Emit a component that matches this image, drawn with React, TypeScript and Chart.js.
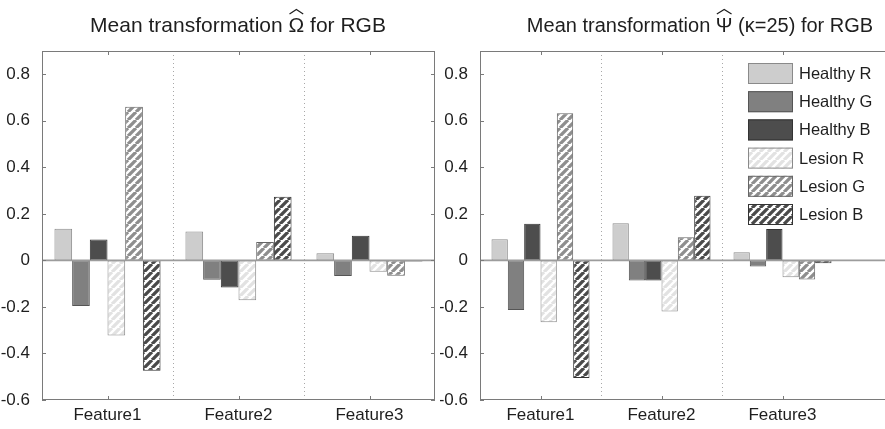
import React, { useEffect, useRef } from 'react';
import { Chart, registerables } from 'chart.js';
Chart.register(...registerables);

const FONT = "'Liberation Sans', Arial, Helvetica, sans-serif";

// ---------- data ----------
const categories = ['Feature1', 'Feature2', 'Feature3'];
const seriesNames = ['Healthy R', 'Healthy G', 'Healthy B', 'Lesion R', 'Lesion G', 'Lesion B'];

const yTicks = [-0.6, -0.4, -0.2, 0, 0.2, 0.4, 0.6, 0.8];
const yTickLabels = ['-0.6', '-0.4', '-0.2', '0', '0.2', '0.4', '0.6', '0.8'];

// Left panel: Mean transformation Omega-hat
const omegaHealthyR = [0.136, 0.124, 0.031];
const omegaHealthyG = [-0.196, -0.083, -0.067];
const omegaHealthyB = [0.09, -0.116, 0.106];
const omegaLesionR = [-0.323, -0.171, -0.049];
const omegaLesionG = [0.66, 0.079, -0.066];
const omegaLesionB = [-0.474, 0.274, -0.005];

// Right panel: Mean transformation Psi-hat (kappa=25)
const psiHealthyR = [0.091, 0.16, 0.035];
const psiHealthyG = [-0.213, -0.086, -0.026];
const psiHealthyB = [0.157, -0.086, 0.135];
const psiLesionR = [-0.266, -0.22, -0.072];
const psiLesionG = [0.632, 0.1, -0.082];
const psiLesionB = [-0.505, 0.278, -0.012];

// Titles: [text before hatted symbol, hatted symbol, text after]
const titleOmega = ['Mean transformation ', '\u03A9', ' for RGB'];
const titlePsi = ['Mean transformation ', '\u03A8', ' (\u03BA=25) for RGB'];

// ---------- styling helpers ----------
function hatch(stripe: string): CanvasPattern | string {
  const s = 8;
  const c = document.createElement('canvas');
  c.width = s;
  c.height = s;
  const g = c.getContext('2d');
  if (!g) return '#fff';
  g.fillStyle = '#ffffff';
  g.fillRect(0, 0, s, s);
  g.strokeStyle = stripe;
  g.lineWidth = 3.3;
  g.beginPath();
  for (const k of [-s, 0, s]) {
    g.moveTo(k, s);
    g.lineTo(k + s, 0);
  }
  g.stroke();
  return g.createPattern(c, 'repeat') || '#fff';
}

function makeStyles() {
  return [
    { fill: '#cdcdcd', border: '#8a8a8a' },
    { fill: '#808080', border: '#555555' },
    { fill: '#4d4d4d', border: '#333333' },
    { fill: hatch('#e2e2e2'), border: '#8a8a8a' },
    { fill: hatch('#8e8e8e'), border: '#666666' },
    { fill: hatch('#4a4a4a'), border: '#333333' },
  ];
}

type PanelOpts = {
  title: string[];
  titleX: number;
  titleSize: number;
  labels: string[];
  series: number[][];
  yAxisWidth: number;
  padRight: number;
  nFeatures: number;
  rightTicks: boolean;
  legend: boolean;
};

function buildChart(canvas: HTMLCanvasElement, o: PanelOpts) {
  const styles = makeStyles();
  const datasets = o.series.map((vals, i) => ({
    label: seriesNames[i],
    data: vals,
    backgroundColor: styles[i].fill as any,
    borderColor: styles[i].border,
    borderWidth: 1,
    borderSkipped: false as any,
    barPercentage: 1,
    categoryPercentage: 0.81,
  }));

  const decor = {
    id: 'decor',
    afterDatasetsDraw(chart: any) {
      const { ctx, chartArea } = chart;
      const { left, right, top, bottom } = chartArea;
      const x = chart.scales.x;
      const y = chart.scales.y;
      ctx.save();
      // dotted separators
      ctx.strokeStyle = '#a8a8a8';
      ctx.lineWidth = 1;
      ctx.setLineDash([1, 3]);
      for (let i = 1; i < o.nFeatures; i++) {
        const xp = Math.round((x.getPixelForTick(i - 1) + x.getPixelForTick(i)) / 2) + 0.5;
        ctx.beginPath();
        ctx.moveTo(xp, top);
        ctx.lineTo(xp, bottom);
        ctx.stroke();
      }
      ctx.setLineDash([]);
      // zero baseline
      const y0 = y.getPixelForValue(0);
      ctx.strokeStyle = '#9c9c9c';
      ctx.lineWidth = 1.6;
      ctx.beginPath();
      ctx.moveTo(left, y0);
      ctx.lineTo(right, y0);
      ctx.stroke();
      // frame
      ctx.strokeStyle = '#7a7a7a';
      ctx.lineWidth = 1;
      ctx.strokeRect(left + 0.5, top + 0.5, right - left - 1, bottom - top - 1);
      // x tick marks (top & bottom, inward)
      for (let i = 0; i < o.nFeatures; i++) {
        const xp = Math.round(x.getPixelForTick(i)) + 0.5;
        ctx.beginPath();
        ctx.moveTo(xp, top);
        ctx.lineTo(xp, top + 4);
        ctx.moveTo(xp, bottom);
        ctx.lineTo(xp, bottom - 4);
        ctx.stroke();
      }
      // y tick marks
      for (const v of yTicks) {
        const yp = Math.round(y.getPixelForValue(v)) + 0.5;
        ctx.beginPath();
        ctx.moveTo(left, yp);
        ctx.lineTo(left + 4, yp);
        if (o.rightTicks) {
          ctx.moveTo(right, yp);
          ctx.lineTo(right - 4, yp);
        }
        ctx.stroke();
      }
      // title (with hat over the Greek symbol)
      ctx.fillStyle = '#1e1e1e';
      ctx.font = `${o.titleSize}px ${FONT}`;
      ctx.textAlign = 'left';
      ctx.textBaseline = 'alphabetic';
      const widths = o.title.map((t) => ctx.measureText(t).width);
      const total = widths.reduce((a, b) => a + b, 0);
      let cx = o.titleX - total / 2;
      const base = 32;
      o.title.forEach((t, i) => {
        ctx.fillText(t, cx, base);
        if (i === 1) {
          const w = widths[i];
          ctx.strokeStyle = '#1e1e1e';
          ctx.lineWidth = 1.2;
          ctx.beginPath();
          ctx.moveTo(cx + 1, 14);
          ctx.lineTo(cx + w / 2, 9.5);
          ctx.lineTo(cx + w - 1, 14);
          ctx.stroke();
        }
        cx += widths[i];
      });
      // legend
      if (o.legend) {
        const sx = 748 - 440;
        const sw = 45;
        const sh = 21;
        ctx.font = `16.5px ${FONT}`;
        ctx.textAlign = 'left';
        ctx.textBaseline = 'middle';
        datasets.forEach((d, i) => {
          const ty = 63 + i * 28.2;
          ctx.fillStyle = d.backgroundColor;
          ctx.fillRect(sx, ty, sw, sh);
          ctx.strokeStyle = d.borderColor;
          ctx.lineWidth = 1;
          ctx.strokeRect(sx + 0.5, ty + 0.5, sw - 1, sh - 1);
          ctx.fillStyle = '#1e1e1e';
          ctx.fillText(d.label, sx + sw + 6, ty + sh / 2 + 1);
        });
      }
      ctx.restore();
    },
  };

  return new Chart(canvas, {
    type: 'bar',
    data: { labels: o.labels, datasets },
    plugins: [decor],
    options: {
      responsive: false,
      maintainAspectRatio: false,
      animation: false,
      layout: { padding: { top: 51, right: o.padRight, left: 0, bottom: 0 } },
      plugins: {
        legend: { display: false },
        title: { display: false },
        tooltip: { enabled: false },
      },
      scales: {
        x: {
          type: 'category',
          offset: true,
          grid: { display: false },
          border: { display: false },
          ticks: {
            font: { family: FONT, size: 17 },
            color: '#1e1e1e',
            padding: -3,
            maxRotation: 0,
            autoSkip: false,
          },
          afterFit: (s: any) => {
            s.height = 29;
          },
        },
        y: {
          type: 'linear',
          min: -0.6,
          max: 0.9,
          grid: { display: false },
          border: { display: false },
          afterBuildTicks: (s: any) => {
            s.ticks = yTicks.map((v) => ({ value: v }));
          },
          ticks: {
            font: { family: FONT, size: 17 },
            color: '#1e1e1e',
            padding: 4,
            callback: (v: any) => {
              const idx = yTicks.findIndex((t) => Math.abs(t - Number(v)) < 1e-9);
              return idx >= 0 ? yTickLabels[idx] : '';
            },
          },
          afterFit: (s: any) => {
            s.width = o.yAxisWidth;
          },
        },
      },
    } as any,
  });
}

export default function App() {
  const leftRef = useRef<HTMLCanvasElement>(null);
  const rightRef = useRef<HTMLCanvasElement>(null);

  useEffect(() => {
    const charts: Chart[] = [];
    if (leftRef.current) {
      charts.push(
        buildChart(leftRef.current, {
          title: titleOmega,
          titleX: 238,
          titleSize: 21,
          labels: categories,
          series: [omegaHealthyR, omegaHealthyG, omegaHealthyB, omegaLesionR, omegaLesionG, omegaLesionB],
          yAxisWidth: 42,
          padRight: 5,
          nFeatures: 3,
          rightTicks: true,
          legend: false,
        })
      );
    }
    if (rightRef.current) {
      charts.push(
        buildChart(rightRef.current, {
          title: titlePsi,
          titleX: 700 - 440,
          titleSize: 20,
          labels: [...categories, ''],
          series: [psiHealthyR, psiHealthyG, psiHealthyB, psiLesionR, psiLesionG, psiLesionB],
          yAxisWidth: 40,
          padRight: 0,
          nFeatures: 3,
          rightTicks: false,
          legend: true,
        })
      );
    }
    return () => charts.forEach((c) => c.destroy());
  }, []);

  return (
    <div
      style={{
        position: 'fixed',
        left: 0,
        top: 0,
        width: 885,
        height: 429,
        overflow: 'hidden',
        background: '#fff',
      }}
    >
      <canvas
        ref={leftRef}
        width={440}
        height={429}
        style={{ position: 'absolute', left: 0, top: 0, width: 440, height: 429 }}
      />
      <canvas
        ref={rightRef}
        width={524}
        height={429}
        style={{ position: 'absolute', left: 440, top: 0, width: 524, height: 429 }}
      />
    </div>
  );
}
